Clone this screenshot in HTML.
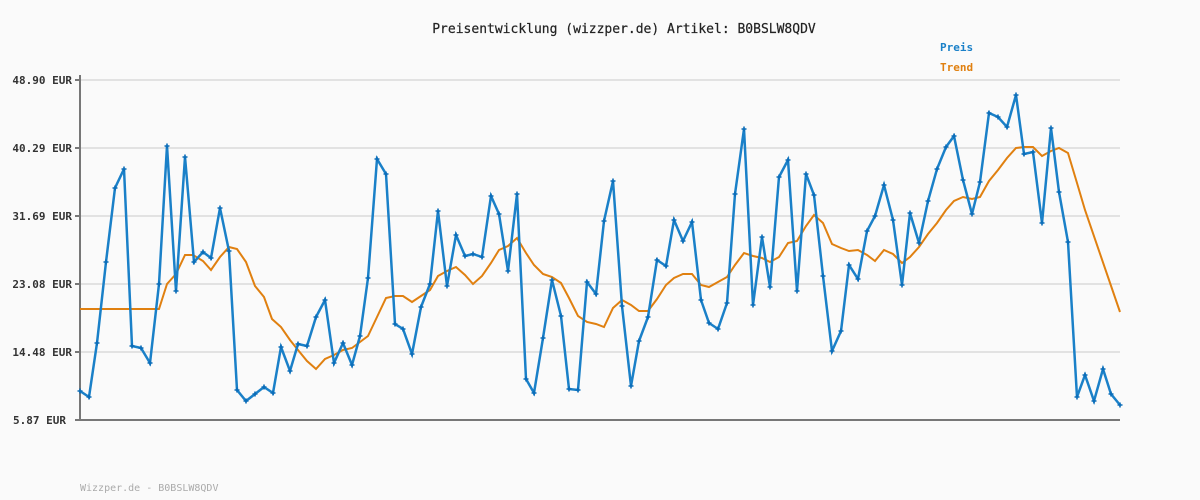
<!DOCTYPE html>
<html><head><meta charset="utf-8"><style>
html,body{margin:0;padding:0;background:#fafafa;}
svg{display:block;}
text{font-family:"DejaVu Sans Mono","Liberation Mono",monospace;}
</style></head><body>
<svg width="1200" height="500" xmlns="http://www.w3.org/2000/svg">
<defs>
<marker id="m" viewBox="-3 -3 6 6" markerWidth="6" markerHeight="6" refX="0" refY="0" markerUnits="userSpaceOnUse">
<path d="M-2.5,0H2.5M0,-2.5V2.5" stroke="#0a6cb8" stroke-width="1.6"/>
</marker>
</defs>
<rect width="1200" height="500" fill="#fafafa"/>
<text x="624" y="33" text-anchor="middle" font-size="13" fill="#222" stroke="#222" stroke-width="0.2">Preisentwicklung (wizzper.de) Artikel: B0BSLW8QDV</text>
<text x="940" y="51" font-size="11" font-weight="bold" fill="#1a80c8">Preis</text>
<text x="940" y="71" font-size="11" font-weight="bold" fill="#e08010">Trend</text>
<g stroke="#e2e2e2" stroke-width="2">
<line x1="80" y1="80" x2="1120" y2="80"/><line x1="80" y1="148" x2="1120" y2="148"/>
<line x1="80" y1="216" x2="1120" y2="216"/><line x1="80" y1="284" x2="1120" y2="284"/>
<line x1="80" y1="352" x2="1120" y2="352"/>
</g>
<g stroke="#777" stroke-width="2">
<line x1="80" y1="75" x2="80" y2="420"/><line x1="80" y1="420" x2="1120" y2="420"/>
<line x1="75" y1="80" x2="80" y2="80"/><line x1="75" y1="148" x2="80" y2="148"/><line x1="75" y1="216" x2="80" y2="216"/><line x1="75" y1="284" x2="80" y2="284"/><line x1="75" y1="352" x2="80" y2="352"/><line x1="75" y1="420" x2="80" y2="420"/>
</g>
<g font-size="11" font-weight="bold" fill="#333" text-anchor="end">
<text x="72" y="84">48.90 EUR</text><text x="72" y="152">40.29 EUR</text><text x="72" y="220">31.69 EUR</text><text x="72" y="288">23.08 EUR</text><text x="72" y="356">14.48 EUR</text><text x="66" y="424">5.87 EUR</text>
</g>
<polyline fill="none" stroke="#e08010" stroke-width="2" points="80,309 159,309 167,284 176,274 185,255 193,255 203,261 211,270 220,257 229,247 237,249 246,262 255,286 264,297 272,319 281,327 290,340 298,350 307,361 316,369 325,359 334,355 343,350 352,348 360,342 368,336 377,317 386,298 395,296 403,296 412,302 421,296 430,290 438,276 447,271 456,267 465,275 473,284 482,276 491,263 499,250 508,246 517,238 526,253 534,265 543,274 552,277 561,283 569,298 578,316 587,322 596,324 604,327 613,308 622,300 631,305 639,311 648,311 657,299 666,285 674,278 683,274 692,274 701,285 709,287 718,282 727,277 735,265 744,253 753,256 762,258 770,262 779,257 788,243 797,241 806,226 814,215 823,223 832,244 841,248 849,251 858,250 867,255 875,261 884,250 893,254 902,263 910,257 919,247 928,234 937,223 946,210 954,201 963,197 972,199 980,197 989,181 998,170 1007,158 1016,148 1024,147 1033,147 1042,156 1051,151 1059,148 1068,153 1077,183 1085,210 1120,312"/>
<polyline fill="none" stroke="#1a80c8" stroke-width="2.5" marker-start="url(#m)" marker-mid="url(#m)" marker-end="url(#m)" points="80,391 89,397 97,343 106,262 115,188 124,169 132,346 141,348 150,363 159,284 167,146 176,291 185,157 194,262 203,252 211,258 220,208 229,251 237,390 246,401 255,394 264,387 273,393 281,347 290,371 298,344 307,346 316,317 325,300 334,363 343,343 352,365 360,336 368,278 377,159 386,174 395,324 403,329 412,354 421,307 430,284 438,211 447,286 456,235 465,256 473,254 482,257 491,196 499,214 508,271 517,194 526,379 534,393 543,338 552,280 561,316 569,389 578,390 587,282 596,294 604,221 613,181 622,306 631,386 639,341 648,317 657,260 666,266 674,220 683,241 692,222 701,300 709,323 718,329 727,303 735,194 744,129 753,305 762,237 770,287 779,177 788,160 797,291 806,174 814,195 823,276 832,351 841,331 849,265 858,279 867,231 875,216 884,185 893,220 902,285 910,213 919,243 928,201 937,169 946,147 954,136 963,180 972,214 980,182 989,113 998,117 1007,127 1016,95 1024,154 1033,152 1042,223 1051,128 1059,192 1068,242 1077,397 1085,375 1094,401 1103,369 1111,394 1120,405"/>
<text x="80" y="491" font-size="10" fill="#aaa">Wizzper.de - B0BSLW8QDV</text>
</svg>
</body></html>
